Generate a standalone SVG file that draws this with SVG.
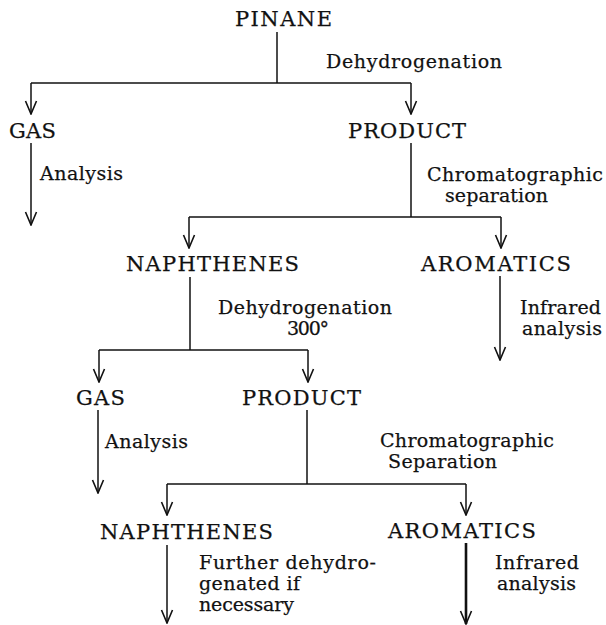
<svg xmlns="http://www.w3.org/2000/svg" width="606" height="625" viewBox="0 0 606 625">
  <style>
    .node { font-family: "DejaVu Serif", "Liberation Serif", serif; font-size: 21px; fill: #111; stroke: #111; stroke-width: 0.25; }
    .lbl { font-family: "DejaVu Serif", "Liberation Serif", serif; font-size: 19px; fill: #111; stroke: #111; stroke-width: 0.25; }
    .ln { stroke: #111; stroke-width: 1.5; fill: none; }
    .arr { stroke: #111; stroke-width: 1.5; fill: none; marker-end: url(#vee); }
    .thick { stroke-width: 2.6; }
  </style>
  <defs>
    <marker id="vee" markerUnits="userSpaceOnUse" markerWidth="16" markerHeight="14" viewBox="-15 -7 16 14" refX="0" refY="0" orient="auto">
      <path d="M -13,-5.5 L 0,0 L -13,5.5" stroke="#111" stroke-width="1.6" fill="none"/>
    </marker>
  </defs>

  <rect width="606" height="625" fill="#fff"/>

  <!-- connectors -->
  <g id="connectors">
    <!-- pinane dehydrogenation split -->
    <line class="ln" x1="277" y1="32" x2="277" y2="83"/>
    <line class="ln" x1="31" y1="83" x2="411" y2="83"/>
    <line class="arr" x1="31" y1="83" x2="31" y2="114"/>
    <line class="arr" x1="411" y1="83" x2="411" y2="114"/>
    <!-- gas analysis -->
    <line class="arr" x1="31" y1="143" x2="31" y2="225"/>
    <!-- product separation -->
    <line class="ln" x1="411" y1="143" x2="411" y2="217"/>
    <line class="ln" x1="189" y1="217" x2="501" y2="217"/>
    <line class="arr" x1="189" y1="217" x2="189" y2="248"/>
    <line class="arr" x1="501" y1="217" x2="501" y2="248"/>
    <!-- aromatics infrared -->
    <line class="arr" x1="500" y1="276" x2="500" y2="360"/>
    <!-- naphthenes dehydrogenation split -->
    <line class="ln" x1="190" y1="277" x2="190" y2="350"/>
    <line class="ln" x1="99" y1="350" x2="308" y2="350"/>
    <line class="arr" x1="99" y1="350" x2="99" y2="382"/>
    <line class="arr" x1="308" y1="350" x2="308" y2="382"/>
    <!-- second gas analysis -->
    <line class="arr" x1="98" y1="410" x2="98" y2="493"/>
    <!-- second product separation -->
    <line class="ln" x1="307" y1="410" x2="307" y2="484"/>
    <line class="ln" x1="167" y1="484" x2="466" y2="484"/>
    <line class="arr" x1="167" y1="484" x2="167" y2="515"/>
    <line class="arr" x1="466" y1="484" x2="466" y2="515"/>
    <!-- final outputs -->
    <line class="arr" x1="167" y1="545" x2="167" y2="623"/>
    <line class="arr thick" x1="466" y1="543" x2="466" y2="624"/>
  </g>

  <!-- step labels -->
  <g id="labels">
    <text class="lbl" x="326" y="68" textLength="176">Dehydrogenation</text>
    <text class="lbl" x="40" y="180" textLength="83">Analysis</text>
    <text class="lbl" x="427" y="181" textLength="176">Chromatographic</text>
    <text class="lbl" x="445" y="202" textLength="103">separation</text>
    <text class="lbl" x="218" y="314" textLength="174">Dehydrogenation</text>
    <text class="lbl" x="287" y="335" textLength="42">300°</text>
    <text class="lbl" x="520" y="314" textLength="81">Infrared</text>
    <text class="lbl" x="522" y="335" textLength="80">analysis</text>
    <text class="lbl" x="105" y="448" textLength="83">Analysis</text>
    <text class="lbl" x="380" y="447" textLength="174">Chromatographic</text>
    <text class="lbl" x="388" y="468" textLength="109">Separation</text>
    <text class="lbl" x="199" y="569" textLength="177">Further dehydro-</text>
    <text class="lbl" x="199" y="590" textLength="101">genated if</text>
    <text class="lbl" x="199" y="611" textLength="95">necessary</text>
    <text class="lbl" x="495" y="569" textLength="84">Infrared</text>
    <text class="lbl" x="497" y="590" textLength="79">analysis</text>
  </g>

  <!-- nodes -->
  <g id="pinane"><text class="node" x="235" y="26" textLength="97">PINANE</text></g>
  <g id="gas1"><text class="node" x="9" y="138" textLength="47">GAS</text></g>
  <g id="product1"><text class="node" x="348" y="138" textLength="118">PRODUCT</text></g>
  <g id="naphthenes1"><text class="node" x="126" y="271" textLength="173">NAPHTHENES</text></g>
  <g id="aromatics1"><text class="node" x="421" y="271" textLength="150">AROMATICS</text></g>
  <g id="gas2"><text class="node" x="76" y="405" textLength="49">GAS</text></g>
  <g id="product2"><text class="node" x="242" y="405" textLength="119">PRODUCT</text></g>
  <g id="naphthenes2"><text class="node" x="100" y="539" textLength="173">NAPHTHENES</text></g>
  <g id="aromatics2"><text class="node" x="388" y="538" textLength="148">AROMATICS</text></g>
</svg>
